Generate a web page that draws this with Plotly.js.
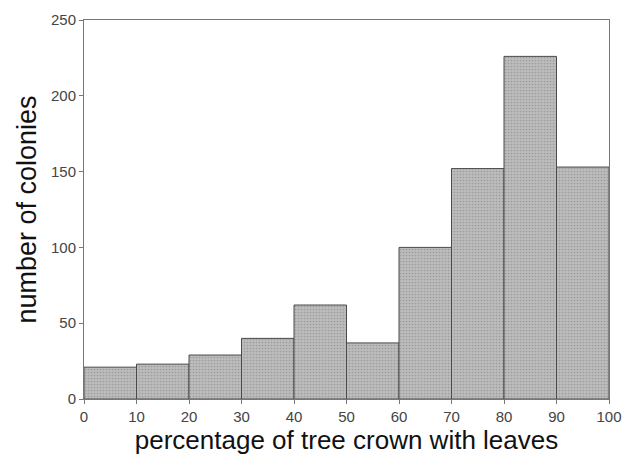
<!DOCTYPE html>
<html>
<head>
<meta charset="utf-8">
<script src="https://cdn.plot.ly/plotly-3.0.1.min.js"></script>
<style>html,body{margin:0;padding:0;background:#fff;}#chart{width:622px;height:459px;}</style>
</head>
<body>
<div id="chart"></div>
<script>
const binStarts = [0, 10, 20, 30, 40, 50, 60, 70, 80, 90];
const binWidth = 10;
const counts = [21, 23, 29, 40, 62, 37, 100, 152, 226, 153];
const xTicks = [0, 10, 20, 30, 40, 50, 60, 70, 80, 90, 100];
const yTicks = [0, 50, 100, 150, 200, 250];

const trace = {
  type: 'bar',
  x: binStarts,
  y: counts,
  width: binStarts.map(() => binWidth),
  offset: 0,
  marker: {
    color: '#b6b6b6',
    line: {color: '#4a4a4a', width: 1},
    pattern: {shape: '.', bgcolor: '#bcbcbc', fgcolor: '#9c9c9c', size: 3, solidity: 0.25}
  },
  hoverinfo: 'skip'
};

const layout = {
  width: 622, height: 459,
  margin: {l: 84, r: 13, t: 20, b: 60},
  paper_bgcolor: '#fff', plot_bgcolor: '#fff',
  showlegend: false,
  bargap: 0,
  xaxis: {
    range: [0, 100], tickvals: xTicks, ticktext: xTicks.map(String),
    showgrid: false, zeroline: false,
    showline: true, linecolor: '#777', linewidth: 1, mirror: true,
    ticks: 'outside', ticklen: 4, tickcolor: '#777',
    tickfont: {family: 'Liberation Sans, Arial, sans-serif', size: 15, color: '#444'},
    title: {text: 'percentage of tree crown with leaves', font: {family: 'Liberation Sans, Arial, sans-serif', size: 26, color: '#111'}, standoff: 5}
  },
  yaxis: {
    range: [0, 250], tickvals: yTicks, ticktext: yTicks.map(String),
    showgrid: false, zeroline: false,
    showline: true, linecolor: '#777', linewidth: 1, mirror: true,
    ticks: 'outside', ticklen: 4, tickcolor: '#777',
    tickfont: {family: 'Liberation Sans, Arial, sans-serif', size: 15, color: '#444'},
    title: {text: 'number of colonies', font: {family: 'Liberation Sans, Arial, sans-serif', size: 27, color: '#111'}, standoff: 6}
  }
};

Plotly.newPlot('chart', [trace], layout, {displayModeBar: false, staticPlot: true});
</script>
</body>
</html>
